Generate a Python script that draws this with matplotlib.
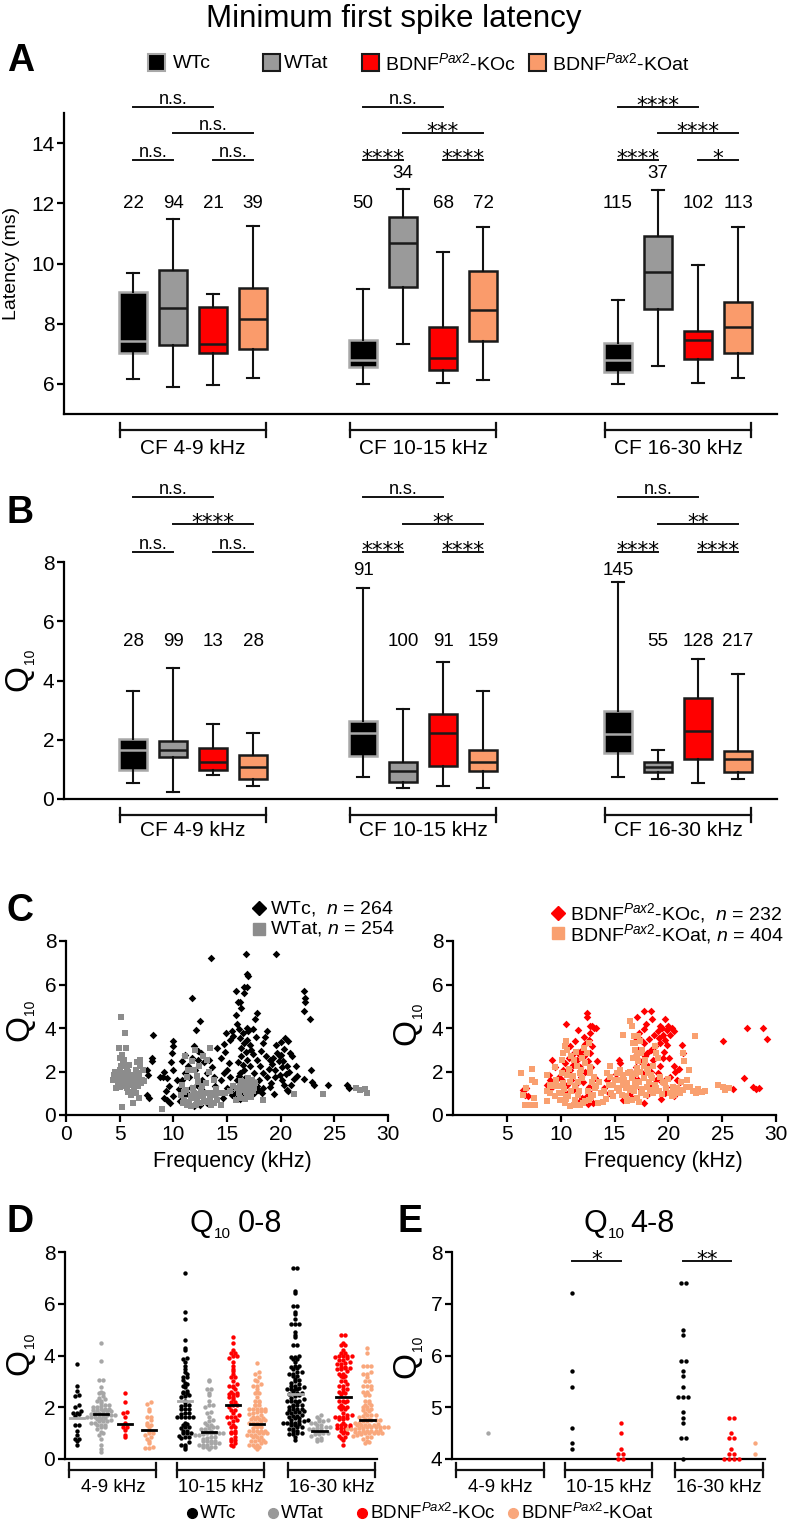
import numpy as np
import matplotlib.pyplot as plt
from matplotlib import font_manager
from matplotlib.patches import Rectangle

W, H = 788, 1524
installed = {f.name for f in font_manager.fontManager.ttflist}
BASE = 'Liberation Sans' if 'Liberation Sans' in installed else 'DejaVu Sans'

plt.rcParams['font.family'] = [BASE, 'DejaVu Sans']
plt.rcParams['mathtext.fontset'] = 'custom'
plt.rcParams['mathtext.rm'] = BASE
plt.rcParams['mathtext.it'] = BASE + ':italic'
plt.rcParams['mathtext.bf'] = BASE + ':bold'

# ---------------- data ----------------
genotypes = ['WTc', 'WTat', r'BDNF$^{\mathit{Pax2}}$-KOc', r'BDNF$^{\mathit{Pax2}}$-KOat']
cf_ranges = ['CF 4-9 kHz', 'CF 10-15 kHz', 'CF 16-30 kHz']
d_ranges = ['4-9 kHz', '10-15 kHz', '16-30 kHz']

# box stats per CF range, per genotype: (min, q1, median, q3, max)
lat_stats = [
    [(6.17, 7.04, 7.43, 9.04, 9.69), (5.89, 7.28, 8.53, 9.80, 11.47),
     (5.96, 7.02, 7.34, 8.55, 8.98), (6.18, 7.17, 8.17, 9.18, 11.24)],
    [(6.01, 6.55, 6.80, 7.47, 9.14), (7.34, 9.23, 10.68, 11.54, 12.48),
     (6.03, 6.46, 6.87, 7.88, 10.37), (6.12, 7.43, 8.45, 9.76, 11.22)],
    [(6.01, 6.38, 6.80, 7.35, 8.78), (6.61, 8.48, 9.71, 10.91, 12.45),
     (6.03, 6.83, 7.46, 7.75, 9.96), (6.18, 7.01, 7.88, 8.73, 11.22)],
]
lat_n = [[22, 94, 21, 39], [50, 34, 68, 72], [115, 37, 102, 113]]
lat_sig = [['n.s.', 'n.s.', 'n.s.', 'n.s.'],
           ['n.s.', '***', '****', '****'],
           ['****', '****', '****', '*']]

q10_stats = [
    [(0.55, 0.98, 1.67, 2.01, 3.65), (0.25, 1.43, 1.65, 1.97, 4.43),
     (0.81, 0.98, 1.24, 1.71, 2.53), (0.44, 0.66, 1.09, 1.49, 2.22)],
    [(0.75, 1.45, 2.22, 2.63, 7.13), (0.36, 0.56, 0.95, 1.26, 3.03),
     (0.44, 1.13, 2.24, 2.86, 4.64), (0.36, 0.96, 1.26, 1.65, 3.65)],
    [(0.75, 1.54, 2.18, 2.98, 7.34), (0.66, 0.92, 1.09, 1.26, 1.65),
     (0.55, 1.35, 2.31, 3.42, 4.74), (0.66, 0.92, 1.35, 1.63, 4.22)],
]
q10_n = [[28, 99, 13, 28], [91, 100, 91, 159], [145, 55, 128, 217]]
q10_sig = [['n.s.', '****', 'n.s.', 'n.s.'],
           ['n.s.', '**', '****', '****'],
           ['n.s.', '**', '****', '****']]

# (frequency kHz, Q10) single units
wtc_pts = [
    (13.5, 7.2), (16.8, 7.4), (19.6, 7.4), (16.9, 6.5), (17.0, 6.4), (16.9, 5.9), (16.6, 5.9),
    (15.8, 5.7), (16.6, 5.6), (16.0, 5.2), (16.3, 4.9), (11.7, 5.4), (15.8, 4.6), (17.8, 4.7),
    (22.2, 5.7), (22.3, 5.4), (22.3, 5.2), (16.2, 5.2), (22.2, 4.8), (22.7, 4.4), (17.6, 4.4),
    (12.5, 4.3), (12.1, 3.9), (8.1, 3.67), (15.9, 4.2), (16.1, 3.94), (16.9, 4.0), (17.0, 3.88),
    (18.7, 3.88), (18.4, 3.3), (20.4, 3.55), (20.7, 3.38), (14.9, 3.76), (15.5, 3.87), (10.0, 3.38),
    (10.0, 3.18), (11.9, 3.15), (12.6, 2.84), (12.3, 2.54), (8.0, 2.61), (8.0, 2.46), (7.5, 2.08),
    (7.6, 1.85), (9.1, 2.0), (9.0, 1.77), (9.9, 2.84), (9.8, 2.42), (10.0, 2.08), (8.8, 1.73),
    (9.4, 1.68), (10.3, 1.62), (10.8, 1.62), (11.1, 1.93), (11.4, 2.23), (11.7, 2.61), (12.3, 2.95),
    (12.9, 2.42), (13.3, 2.54), (14.7, 1.93), (15.0, 2.08), (15.3, 1.77), (14.1, 3.07), (14.7, 3.27),
    (15.3, 3.46), (15.6, 3.61), (16.2, 3.53), (16.6, 3.3), (16.9, 3.46), (17.2, 3.0), (17.4, 2.8),
    (17.8, 2.54), (18.1, 2.23), (18.4, 1.93), (18.7, 1.77), (19.0, 2.54), (19.3, 2.61), (19.7, 2.84),
    (19.9, 2.69), (20.2, 2.46), (20.6, 2.23), (20.9, 2.84), (21.1, 2.72), (21.4, 2.26), (21.2, 1.65),
    (20.1, 1.62), (20.3, 1.39), (20.6, 1.16), (20.7, 1.09), (19.5, 1.77), (19.1, 1.47), (18.4, 1.24),
    (18.3, 1.01), (22.2, 1.65), (22.8, 2.08), (22.9, 1.51), (23.1, 1.39), (24.4, 1.36), (26.2, 1.39),
    (26.4, 1.24), (15.6, 1.32), (15.9, 1.62), (16.2, 1.93), (16.6, 2.08), (16.9, 2.54), (17.1, 2.23),
    (17.5, 1.93), (15.0, 1.24), (15.3, 1.09), (14.4, 1.62), (13.8, 1.77), (13.1, 1.93), (12.7, 1.62),
    (12.2, 1.39), (11.6, 1.24), (11.3, 1.01), (11.0, 0.86), (9.6, 1.32), (9.3, 1.09), (9.4, 0.7),
    (9.7, 0.55), (9.1, 0.78), (10.0, 0.86), (11.1, 0.55), (11.9, 0.4), (12.5, 0.47), (13.1, 0.55),
    (7.5, 0.93), (7.7, 0.78), (5.5, 1.77), (6.3, 1.32), (17.8, 1.32), (17.5, 1.01), (15.8, 1.01),
    (16.4, 0.86), (14.1, 1.01), (10.8, 2.46), (11.1, 2.77),
    (16.4, 1.5), (16.7, 1.7), (17.0, 1.45), (17.3, 1.6), (16.1, 1.8), (16.5, 2.3), (16.8, 2.9),
    (17.1, 3.2), (16.3, 2.7), (18.0, 1.6), (18.9, 2.1), (19.2, 2.35), (19.5, 2.05), (19.8, 2.5),
    (20.0, 2.75), (20.3, 3.05), (20.1, 2.2), (20.5, 1.9), (19.6, 3.2), (18.6, 2.7), (18.2, 2.95),
    (17.7, 3.6), (16.5, 3.75), (16.0, 2.45), (17.9, 1.15), (19.0, 1.3), (21.0, 1.4), (20.8, 2.0),
    (16.6, 1.1), (17.2, 0.95), (16.2, 0.75), (19.4, 0.95), (21.5, 1.8), (18.5, 3.6), (20.0, 3.35),
    (17.4, 3.95), (16.3, 3.1), (19.9, 1.85),
    (10.5, 1.2), (11.5, 1.75), (12.0, 2.05), (13.6, 2.2), (14.4, 2.6), (14.8, 2.9), (15.2, 2.4),
    (13.9, 1.35), (10.6, 0.65), (12.8, 1.1), (14.6, 0.8), (15.5, 0.9),
]
wtat_pts = [
    (5.1, 4.5), (5.5, 3.78), (4.9, 3.07), (5.6, 3.07), (5.2, 2.77), (5.4, 2.54), (5.1, 2.23),
    (4.8, 1.93), (4.6, 1.7), (4.4, 1.62), (4.8, 1.47), (5.2, 1.62), (5.5, 1.85), (5.8, 2.0),
    (6.1, 1.77), (6.3, 1.62), (6.6, 1.93), (6.9, 2.23), (6.9, 2.54), (7.2, 2.08), (6.7, 1.32),
    (6.5, 1.01), (6.8, 0.78), (6.2, 0.55), (5.2, 0.37), (5.7, 1.24), (6.0, 1.39), (4.7, 1.24),
    (7.1, 1.62), (6.5, 2.08), (5.4, 1.93), (5.1, 1.77), (5.5, 1.32), (6.1, 0.93),
    (4.5, 1.85), (4.9, 1.55), (5.0, 2.05), (5.3, 1.45), (5.6, 1.6), (5.9, 1.5), (6.2, 1.85),
    (6.4, 1.4), (6.7, 1.65), (7.0, 1.45), (5.0, 1.3), (5.3, 2.35), (5.7, 2.15), (6.0, 1.7),
    (6.3, 1.15), (4.6, 2.0), (5.8, 1.05), (6.6, 2.45), (5.2, 1.9), (4.8, 1.75), (5.5, 1.7),
    (6.8, 1.9), (7.3, 1.55), (5.9, 2.3), (5.0, 2.6), (8.9, 0.28),
    (10.8, 1.39), (11.1, 2.69), (11.4, 2.08), (11.7, 2.46), (12.0, 3.0), (12.4, 2.23), (12.8, 2.69),
    (13.4, 3.07), (13.1, 2.54), (10.7, 0.93), (11.0, 0.7), (11.3, 0.47), (11.6, 0.86), (11.9, 1.01),
    (12.2, 0.7), (12.5, 0.55), (12.8, 0.86), (13.1, 1.01), (13.4, 0.78), (13.8, 0.55), (14.1, 0.7),
    (14.4, 0.47), (12.7, 1.32), (13.0, 1.47), (11.6, 0.4), (12.1, 0.47), (12.4, 0.95), (12.9, 0.63),
    (13.6, 1.01), (13.9, 0.93), (14.4, 1.01), (14.8, 1.01), (15.3, 1.09), (15.6, 1.32), (11.9, 2.08),
    (11.3, 1.77), (13.3, 2.0), (13.8, 1.62), (11.2, 1.15), (11.8, 1.25), (12.3, 1.5), (12.6, 1.15),
    (13.2, 0.6), (10.9, 0.55), (11.5, 0.6), (12.0, 0.8), (13.5, 0.45), (14.0, 1.2), (12.2, 1.8),
    (11.0, 1.05), (15.9, 1.24), (15.8, 0.7),
    (16.2, 1.32), (16.6, 1.39), (16.9, 1.47), (17.2, 1.39), (17.5, 1.24), (17.3, 1.62), (17.0, 1.7),
    (16.2, 0.78), (16.7, 0.73), (17.2, 0.83), (18.4, 0.7), (21.2, 0.98), (23.9, 0.98), (27.0, 1.24),
    (27.4, 1.16), (27.9, 1.19), (28.0, 1.01), (16.4, 1.15), (16.8, 1.05), (17.1, 1.2), (16.5, 1.5),
    (17.4, 1.1), (16.1, 1.0), (16.9, 0.9), (17.6, 1.45), (16.3, 1.55), (16.7, 1.3),
]
koc_pts = [
    (12.4, 4.7), (12.4, 4.5), (10.5, 4.2), (11.6, 3.91), (12.7, 4.1), (12.9, 4.1), (13.1, 4.0),
    (13.3, 4.0), (12.7, 3.76), (12.6, 3.46), (12.3, 3.27), (12.0, 3.0), (11.8, 2.77), (11.5, 2.54),
    (11.2, 2.84), (10.9, 3.15), (12.2, 2.69), (12.5, 2.46), (12.7, 2.84), (12.9, 3.15), (9.2, 2.55),
    (9.5, 2.2), (10.4, 2.39), (10.2, 2.08), (10.9, 2.08), (8.9, 1.82), (9.0, 1.62), (8.7, 1.39),
    (9.1, 1.24), (9.8, 1.77), (6.5, 1.13), (6.8, 1.24), (7.0, 0.86), (6.7, 0.93), (10.1, 1.62),
    (10.6, 1.39), (11.0, 1.62), (11.3, 1.24), (12.0, 0.78), (12.4, 0.86), (12.7, 1.01), (13.0, 0.55),
    (11.5, 1.47), (11.9, 1.77), (10.7, 1.9), (11.1, 2.3), (11.4, 1.1), (11.8, 2.2), (12.1, 1.5),
    (12.3, 2.0), (12.6, 1.3), (12.8, 2.2), (13.2, 1.7), (10.3, 0.75), (11.7, 0.6), (12.2, 3.6),
    (11.3, 3.4), (10.8, 2.6), (12.5, 0.5), (13.4, 2.5), (14.5, 1.0), (15.1, 1.9), (10.4, 1.05),
    (11.6, 2.9), (15.4, 2.51), (15.5, 2.39), (15.8, 0.7), (14.3, 1.62), (14.0, 1.24),
    (17.1, 4.5), (17.7, 4.8), (18.4, 4.8), (18.5, 4.4), (17.9, 4.2), (17.7, 3.95), (17.3, 3.76),
    (17.5, 3.46), (19.7, 4.4), (20.0, 4.1), (20.3, 4.0), (20.5, 3.84), (20.2, 3.69), (19.4, 4.0),
    (19.2, 4.1), (19.0, 3.84), (19.5, 3.69), (19.7, 3.46), (19.2, 3.3), (18.8, 3.15), (18.4, 3.0),
    (18.0, 2.84), (17.7, 3.3), (17.2, 3.0), (16.9, 2.69), (21.3, 3.2), (21.4, 2.84), (20.5, 2.23),
    (20.6, 2.0), (20.2, 1.77), (19.7, 1.62), (19.8, 1.31), (19.4, 1.54), (19.0, 1.93), (19.2, 2.23),
    (20.8, 1.62), (21.1, 1.54), (20.5, 1.31), (19.7, 1.01), (18.6, 2.54), (18.1, 2.23), (17.7, 1.93),
    (17.2, 1.62), (16.8, 1.31), (16.4, 1.01), (17.7, 0.55), (25.1, 3.41), (27.3, 4.0), (28.8, 4.0),
    (29.2, 3.5), (27.0, 1.7), (27.9, 1.31), (28.4, 1.24), (28.1, 1.19), (26.0, 1.21), (20.5, 0.86),
    (16.5, 2.0), (17.0, 2.2), (17.4, 2.5), (17.8, 2.7), (18.2, 3.5), (18.7, 3.7), (19.1, 3.55),
    (19.6, 2.9), (19.9, 3.2), (20.1, 2.6), (18.9, 1.6), (18.3, 1.4), (17.5, 1.2), (16.6, 0.8),
    (18.0, 0.9), (19.3, 0.75), (20.9, 1.1), (21.0, 2.1), (18.6, 1.1), (19.9, 3.9), (17.0, 3.55),
    (16.7, 1.7), (18.4, 2.0), (19.5, 2.6),
]
koat_pts = [
    (6.3, 1.93), (7.3, 2.13), (6.5, 0.93), (6.7, 0.47), (7.2, 0.44), (7.6, 0.44), (7.3, 1.62),
    (7.6, 1.5), (7.5, 0.78), (6.8, 1.24), (8.7, 1.85), (8.7, 0.63), (9.0, 1.01), (9.3, 1.32),
    (9.6, 1.62), (9.5, 2.2), (9.8, 1.32), (9.9, 0.7), (9.8, 1.01), (9.5, 0.86), (8.7, 1.09),
    (9.0, 1.39),
    (10.1, 2.54), (10.2, 2.84), (10.4, 3.15), (10.5, 3.38), (10.6, 3.0), (10.1, 1.93), (10.1, 1.01),
    (10.4, 0.55), (10.9, 0.4), (11.2, 0.47), (10.7, 0.86), (11.0, 1.09), (11.3, 1.32), (11.6, 1.54),
    (11.8, 1.93), (11.5, 2.23), (11.2, 2.54), (11.9, 2.08), (12.3, 2.39), (12.4, 2.84), (12.6, 3.3),
    (12.2, 3.07), (12.7, 1.93), (12.9, 1.54), (13.2, 1.24), (13.0, 0.93), (12.6, 0.7), (12.1, 0.55),
    (11.6, 0.93), (11.3, 0.7), (10.9, 1.54), (10.6, 1.85), (10.2, 1.47), (13.3, 1.32), (13.7, 1.01),
    (13.5, 0.55), (14.6, 1.77), (14.9, 1.39), (14.7, 1.01), (15.2, 1.93), (15.5, 1.62), (15.8, 1.39),
    (15.8, 1.85), (15.8, 3.7), (15.5, 2.08), (14.6, 2.23), (14.3, 1.93), (15.9, 1.62), (15.2, 1.24),
    (14.9, 0.86), (15.7, 0.93), (10.3, 1.2), (10.8, 2.1), (11.1, 1.8), (11.4, 2.9), (11.7, 1.1),
    (12.0, 1.7), (12.5, 1.1), (12.8, 0.85), (13.1, 1.75), (13.6, 1.5), (14.0, 1.1), (14.2, 0.75),
    (11.0, 2.7), (12.0, 2.6), (10.5, 0.75), (12.3, 0.65), (13.9, 0.6), (14.5, 1.4), (15.0, 1.6),
    (15.4, 1.1), (11.8, 0.45), (12.7, 2.2),
    (16.1, 1.24), (16.4, 1.16), (16.3, 1.93), (16.6, 1.7), (16.9, 1.54), (16.4, 4.3), (16.6, 4.1),
    (16.8, 3.61), (16.7, 3.3), (16.9, 3.0), (17.1, 2.69), (17.2, 2.46), (17.1, 2.16), (17.2, 3.61),
    (17.4, 3.38), (17.7, 1.7), (18.0, 1.31), (18.3, 1.16), (18.6, 1.01), (18.9, 1.24), (17.5, 1.01),
    (17.1, 0.78), (16.6, 0.7), (16.1, 0.86), (18.1, 1.93), (18.6, 2.23), (18.9, 2.84), (18.8, 3.15),
    (19.2, 1.77), (19.5, 1.54), (19.8, 1.24), (20.2, 1.01), (20.3, 0.86), (21.4, 2.84), (21.5, 2.46),
    (21.9, 2.08), (21.7, 1.62), (22.5, 3.61), (22.0, 1.31), (22.3, 1.09), (22.6, 1.01), (23.1, 1.06),
    (23.4, 1.09), (21.4, 1.16), (21.1, 1.01), (20.8, 1.24), (20.5, 0.93), (24.6, 1.39), (25.1, 1.31),
    (25.6, 1.24), (25.3, 1.13), (17.7, 2.23), (17.8, 2.54), (17.5, 2.84), (16.2, 1.45), (16.5, 1.25),
    (16.8, 1.1), (17.0, 1.35), (17.3, 1.5), (17.6, 1.2), (17.9, 0.9), (18.2, 1.5), (18.5, 1.7),
    (18.8, 1.4), (19.1, 1.1), (19.4, 0.95), (19.7, 1.45), (20.0, 1.65), (20.4, 1.3), (20.7, 1.05),
    (21.2, 1.5), (21.6, 1.3), (22.8, 1.2), (16.4, 2.0), (16.7, 2.6), (17.0, 1.9), (17.4, 2.0),
    (16.2, 0.65), (17.3, 0.6), (18.0, 2.1), (19.0, 2.6), (16.9, 3.3), (17.6, 3.0), (18.4, 1.85),
]
unit_pts = [wtc_pts, wtat_pts, koc_pts, koat_pts]

# horizontal lines in panel D (group means)
d_means = [[1.6, 2.25, 2.5], [1.75, 1.05, 1.1], [1.35, 2.07, 2.4], [1.12, 1.35, 1.52]]

# ---------------- style ----------------
box_face = ['#000000', '#9a9a9a', '#ff0000', '#fa9b6b']
box_edge = ['#a8a8a8', '#1a1a1a', '#1a1a1a', '#1a1a1a']
dot_col = ['#000000', '#a6a6a6', '#ff0000', '#f9a77c']
sc_col = ['#000000', '#8c8c8c', '#ff0000', '#f9a070']

fig = plt.figure(figsize=(W / 100, H / 100), dpi=100)


def add_ax(x0, y0, x1, y1):
    return fig.add_axes([x0 / W, 1 - y1 / H, (x1 - x0) / W, (y1 - y0) / H])


def ftext(x, y, s, **kw):
    fig.text(x / W, 1 - y / H, s, **kw)


def style(ax, ylim, yticks, fs):
    for s in ['top', 'right']:
        ax.spines[s].set_visible(False)
    for s in ['left', 'bottom']:
        ax.spines[s].set_linewidth(1.6)
    ax.set_ylim(*ylim)
    ax.set_yticks(yticks)
    ax.tick_params(axis='y', length=5, width=1.6, labelsize=fs, pad=2)


def group_bracket(ax, x0, x1, label, line_px, label_px, fs, tick_px=7):
    tr = ax.get_xaxis_transform()
    hpx = ax.get_position().height * H
    yl = -line_px / hpx
    kw = dict(color='#111111', lw=1.6, transform=tr, clip_on=False)
    ax.plot([x0, x1], [yl, yl], **kw)
    for x in (x0, x1):
        ax.plot([x, x], [-(line_px - tick_px) / hpx, -(line_px + tick_px) / hpx], **kw)
    ax.text((x0 + x1) / 2, -label_px / hpx, label, transform=tr, ha='center',
            va='center', fontsize=fs)


def sig_bracket(ax, x0, x1, y, label):
    ax.plot([x0, x1], [y, y], color='#111111', lw=1.4, clip_on=False)
    if label == 'n.s.':
        ax.annotate(label, ((x0 + x1) / 2, y), xytext=(0, 2), textcoords='offset points',
                    ha='center', va='baseline', fontsize=13, annotation_clip=False)
    else:
        ax.annotate(label, ((x0 + x1) / 2, y), xytext=(0, -3.5), textcoords='offset points',
                    ha='center', va='baseline', fontsize=15.5, family='DejaVu Sans',
                    annotation_clip=False)


box_start = [1.725, 7.475, 13.85]


def box_panel(ax, stats, counts, sig, levels, n_base, n_high, label_px):
    for r in range(3):
        pos = box_start[r] + np.arange(4)
        bst = [dict(whislo=s[0], q1=s[1], med=s[2], q3=s[3], whishi=s[4]) for s in stats[r]]
        bp = ax.bxp(bst, positions=pos, widths=0.68, capwidths=0.3, patch_artist=True,
                    showfliers=False, manage_ticks=False)
        for g in range(4):
            bp['boxes'][g].set(facecolor=box_face[g], edgecolor=box_edge[g], linewidth=1.8)
            bp['medians'][g].set(color=box_edge[g], linewidth=1.8)
        for ln in bp['whiskers'] + bp['caps']:
            ln.set(color='#111111', linewidth=1.5)
        for g in range(4):
            ny = n_high if stats[r][g][4] > n_base - 0.5 else n_base
            ax.text(pos[g], ny, str(counts[r][g]), ha='center', va='center', fontsize=13.5)
        pairs = [(0, 2), (1, 3), (0, 1), (2, 3)]
        for (i, j), lab, y in zip(pairs, sig[r], [levels[0], levels[1], levels[2], levels[2]]):
            sig_bracket(ax, pos[i], pos[j], y, lab)
        group_bracket(ax, pos[0] - 0.325, pos[3] + 0.325, cf_ranges[r], 16, label_px, 15)
    ax.set_xlim(0, 17.825)
    ax.set_xticks([])


def q10_ylabel(q_xy, sub_xy):
    ftext(q_xy[0], q_xy[1], 'Q', rotation=90, ha='center', va='center', fontsize=24)
    ftext(sub_xy[0], sub_xy[1], '10', rotation=90, ha='center', va='center', fontsize=10)


# ---------------- title / panel A ----------------
ftext(394, 27, 'Minimum first spike latency', ha='center', va='baseline', fontsize=22.5)
for letter, (x, y) in zip('ABCDE', [(21, 61), (20, 513), (20, 911), (20, 1222), (410, 1222)]):
    ftext(x, y, letter, ha='center', va='center', fontsize=27, fontweight='bold')

leg_sq = [156, 271, 370, 537]
leg_tx = [173, 284, 385, 552]
for g in range(4):
    fig.add_artist(Rectangle(((leg_sq[g] - 8.5) / W, 1 - 71 / H), 17 / W, 17 / H,
                             transform=fig.transFigure, facecolor=box_face[g],
                             edgecolor=box_edge[g], linewidth=1.5))
    ftext(leg_tx[g], 63, genotypes[g], ha='left', va='center', fontsize=14)

axA = add_ax(64, 113, 777, 414)
style(axA, (5, 15), [6, 8, 10, 12, 14], 15)
box_panel(axA, lat_stats, lat_n, lat_sig, [15.2, 14.34, 13.43], 12.0, 13.0, 34)
ftext(12, 263, 'Latency (ms)', rotation=90, ha='center', va='center', fontsize=14)

# ---------------- panel B ----------------
axB = add_ax(64, 562, 777, 799)
style(axB, (0, 8), [0, 2, 4, 6, 8], 15)
box_panel(axB, q10_stats, q10_n, q10_sig, [10.19, 9.28, 8.34], 5.31, 7.7, 31)
q10_ylabel((19, 678), (30, 656))

# ---------------- panel C ----------------
axCL = add_ax(66, 941, 388, 1115)
axCR = add_ax(453, 941, 776, 1115)
for ax, gs in [(axCL, (0, 1)), (axCR, (2, 3))]:
    for g in gs:
        f, q = np.array(unit_pts[g]).T
        if g in (0, 2):
            ax.scatter(f, q, marker='D', s=15, color=sc_col[g], linewidths=0, clip_on=False)
        else:
            ax.scatter(f, q, marker='s', s=21, color=sc_col[g], linewidths=0, clip_on=False)
    style(ax, (0, 8), [0, 2, 4, 6, 8], 15)
    ax.set_xlim(0, 30)
    ax.tick_params(axis='x', length=5, width=1.6, labelsize=15, pad=2)
axCL.set_xticks([0, 5, 10, 15, 20, 25, 30])
axCR.set_xticks([5, 10, 15, 20, 25, 30])
ftext(232, 1162, 'Frequency (kHz)', ha='center', va='center', fontsize=15.5)
ftext(663, 1162, 'Frequency (kHz)', ha='center', va='center', fontsize=15.5)
q10_ylabel((20, 1028), (30, 1007))
q10_ylabel((407, 1032), (418, 1010))

fig.add_artist(plt.Line2D([259 / W], [1 - 908 / H], marker='D', markersize=7.5, color=sc_col[0],
                          transform=fig.transFigure, linestyle='none'))
fig.add_artist(plt.Line2D([259 / W], [1 - 929 / H], marker='s', markersize=8.5, color=sc_col[1],
                          transform=fig.transFigure, linestyle='none'))
ftext(270, 908, r'WTc,  $\mathit{n}$ = 264', ha='left', va='center', fontsize=14)
ftext(270, 929, r'WTat, $\mathit{n}$ = 254', ha='left', va='center', fontsize=14)
fig.add_artist(plt.Line2D([558 / W], [1 - 913 / H], marker='D', markersize=7.5, color=sc_col[2],
                          transform=fig.transFigure, linestyle='none'))
fig.add_artist(plt.Line2D([558 / W], [1 - 933 / H], marker='s', markersize=8.5, color=sc_col[3],
                          transform=fig.transFigure, linestyle='none'))
ftext(570, 913, genotypes[2] + r',  $\mathit{n}$ = 232', ha='left', va='center', fontsize=14)
ftext(570, 934, genotypes[3] + r', $\mathit{n}$ = 404', ha='left', va='center', fontsize=14)

# ---------------- panels D / E ----------------
d_starts = [0.5, 5.0, 9.6]


def swarm(vals, bin_w, dx):
    vals = np.asarray(vals)
    bins = np.round(vals / bin_w).astype(int)
    off = np.zeros(len(vals))
    for b in np.unique(bins):
        idx = np.where(bins == b)[0]
        off[idx] = (np.arange(len(idx)) - (len(idx) - 1) / 2) * dx
    return off


axD = add_ax(65, 1252, 377, 1459)
axE = add_ax(452, 1252, 765, 1459)
style(axD, (0, 8), [0, 2, 4, 6, 8], 15)
style(axE, (4, 8), [4, 5, 6, 7, 8], 15)
for g in range(4):
    f, q = np.array(unit_pts[g]).T
    rng = np.where(f < 10, 0, np.where(f < 16, 1, 2))
    for r in range(3):
        x0 = d_starts[r] + g
        v = np.sort(q[rng == r])
        axD.scatter(x0 + swarm(v, 0.12, 0.17), v, s=10, color=dot_col[g], linewidths=0,
                    clip_on=False, zorder=3)
        line_c = '#a8a8a8' if g == 0 else '#000000'
        axD.plot([x0 - 0.3, x0 + 0.3], [d_means[g][r]] * 2, color=line_c, lw=2, zorder=4)
        ve = v[v >= 4.0]
        if len(ve):
            axE.scatter(x0 + swarm(ve, 0.1, 0.2), ve, s=10, color=dot_col[g], linewidths=0,
                        clip_on=False, zorder=3)
for ax in (axD, axE):
    ax.set_xlim(0, 13.0)
    ax.set_xticks([])
    for r in range(3):
        group_bracket(ax, d_starts[r] - 0.32, d_starts[r] + 3.31, d_ranges[r], 11, 29, 13.5)
for r, lab in [(1, '*'), (2, '**')]:
    sig_bracket(axE, d_starts[r], d_starts[r] + 2, 7.83, lab)

for qx, tx, s in [(213, 238, '0-8'), (607, 630, '4-8')]:
    ftext(qx, 1232, 'Q', ha='right', va='baseline', fontsize=22)
    ftext(qx + 1, 1238, '10', ha='left', va='baseline', fontsize=11)
    ftext(tx, 1232, s, ha='left', va='baseline', fontsize=22)
q10_ylabel((20, 1362), (30, 1340))
q10_ylabel((407, 1365), (418, 1343))

# bottom legend
leg_dot = [192, 273, 362, 513]
for g in range(4):
    fig.add_artist(plt.Line2D([leg_dot[g] / W], [1 - 1513 / H], marker='o', markersize=7,
                              color=dot_col[g] if g != 1 else '#999999',
                              transform=fig.transFigure, linestyle='none'))
    ftext(leg_dot[g] + 8, 1513, genotypes[g], ha='left', va='center', fontsize=13.5)

fig.savefig('out.png', dpi=100)
